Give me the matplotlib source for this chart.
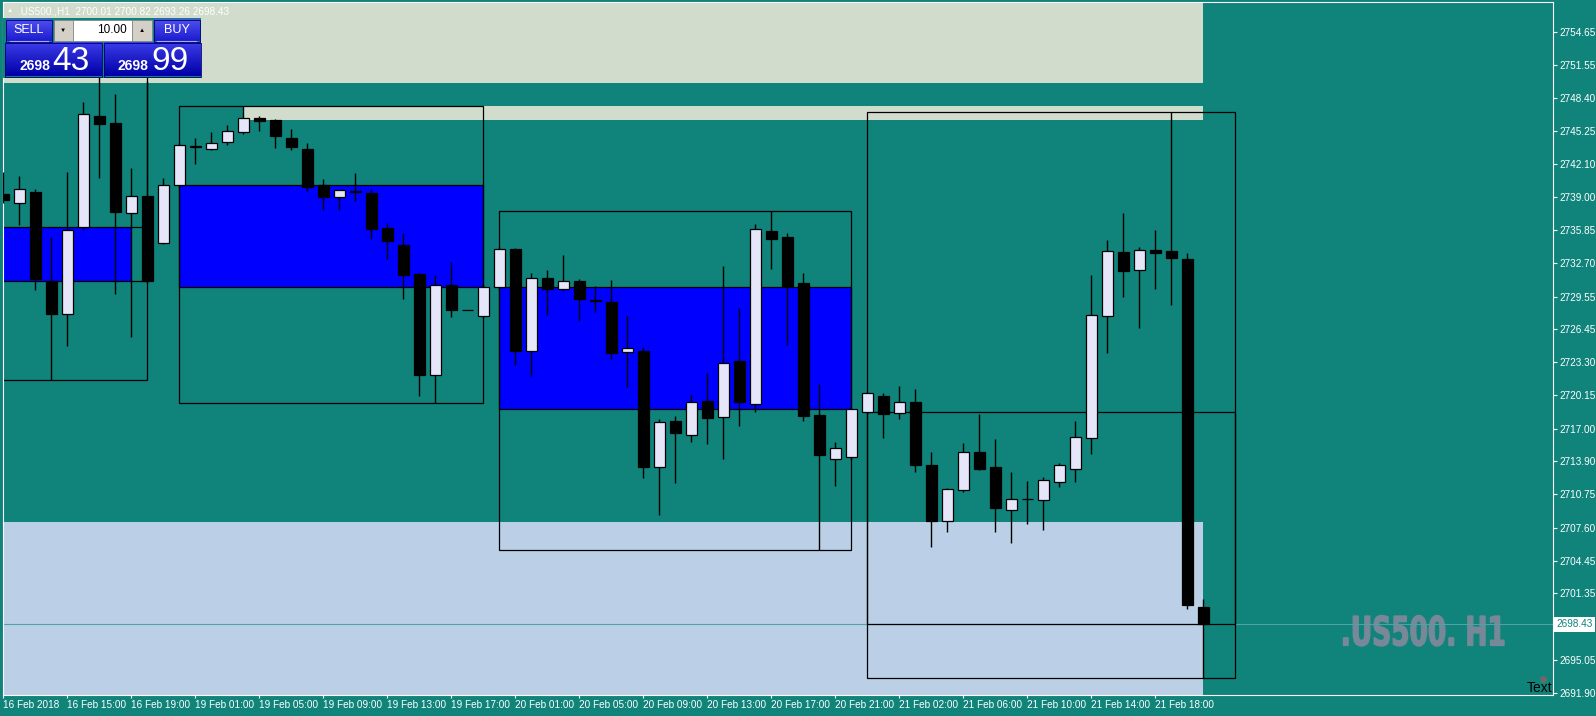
import matplotlib
matplotlib.use('Agg')
import numpy as np
import matplotlib.pyplot as plt
from matplotlib.patches import Rectangle, PathPatch
from matplotlib.textpath import TextPath
from matplotlib.font_manager import FontProperties
from matplotlib.transforms import Affine2D, blended_transform_factory
from matplotlib.colors import LinearSegmentedColormap

plt.rcParams['font.family'] = ['Liberation Sans', 'DejaVu Sans']

# .US500 H1 bars, 16 Feb 2018 11:00 .. 21 Feb 2018 21:00
opens = [2739.29, 2738.46, 2739.48, 2730.99, 2727.92, 2736.12, 2746.70, 2746.03, 2737.45, 2739.10,
         2734.60, 2740.11, 2743.80, 2743.59, 2744.20, 2745.21, 2746.48, 2746.32, 2744.61, 2743.56,
         2740.11, 2738.97, 2739.50, 2739.35, 2736.06, 2734.41, 2731.69, 2722.12, 2730.61, 2728.27,
         2727.74, 2730.42, 2734.03, 2724.40, 2731.27, 2730.29, 2730.99, 2729.18, 2729.02, 2724.30,
         2724.37, 2713.38, 2717.72, 2716.35, 2719.58, 2718.07, 2723.39, 2719.30, 2735.77, 2735.20,
         2730.83, 2718.29, 2714.14, 2714.27, 2718.62, 2720.09, 2718.44, 2719.53, 2713.52, 2708.24,
         2711.20, 2714.75, 2713.34, 2709.23, 2710.30, 2710.25, 2711.94, 2713.16, 2716.12, 2727.72,
         2733.77, 2732.08, 2734.01, 2733.87, 2733.10, 2700.01]
highs = [2741.41, 2741.00, 2739.76, 2735.23, 2741.38, 2748.03, 2752.02, 2748.79, 2741.76, 2750.00,
         2740.84, 2744.10, 2744.61, 2745.18, 2745.84, 2747.65, 2746.70, 2746.41, 2745.46, 2744.13,
         2740.71, 2739.70, 2741.28, 2739.79, 2736.50, 2735.55, 2731.75, 2731.59, 2732.83, 2728.30,
         2730.60, 2734.30, 2734.12, 2731.75, 2732.06, 2733.49, 2731.18, 2730.54, 2731.11, 2727.69,
         2724.72, 2717.91, 2718.19, 2720.16, 2722.25, 2732.44, 2728.45, 2736.43, 2737.64, 2735.58,
         2731.78, 2721.23, 2715.69, 2719.00, 2720.50, 2720.37, 2721.04, 2720.76, 2714.75, 2711.34,
         2715.63, 2718.37, 2716.01, 2712.85, 2712.01, 2712.39, 2713.73, 2717.70, 2731.59, 2734.93,
         2737.49, 2734.22, 2735.88, 2747.06, 2733.66, 2700.82]
lows = [2738.40, 2736.34, 2730.17, 2721.61, 2724.84, 2735.87, 2740.84, 2729.82, 2725.73, 2730.80,
        2734.50, 2740.00, 2742.17, 2743.47, 2743.94, 2744.99, 2745.27, 2743.66, 2743.47, 2739.60,
        2737.77, 2737.77, 2738.65, 2735.01, 2733.14, 2729.34, 2720.13, 2719.43, 2727.63, 2728.25,
        2727.50, 2730.20, 2723.04, 2722.02, 2727.76, 2730.10, 2727.25, 2728.10, 2723.58, 2720.98,
        2712.33, 2708.82, 2711.86, 2715.75, 2715.56, 2714.14, 2717.27, 2718.60, 2732.16, 2724.94,
        2717.75, 2705.50, 2711.57, 2714.00, 2718.40, 2716.12, 2717.95, 2712.88, 2705.78, 2707.19,
        2710.99, 2713.10, 2707.19, 2706.13, 2707.96, 2707.36, 2711.44, 2711.90, 2714.57, 2724.17,
        2729.48, 2726.59, 2730.25, 2728.78, 2699.88, 2693.26]
closes = [2738.72, 2739.73, 2731.21, 2727.92, 2735.84, 2746.89, 2745.97, 2737.61, 2739.07, 2730.99,
          2740.11, 2743.91, 2743.85, 2744.10, 2745.24, 2746.48, 2746.26, 2744.83, 2743.79, 2739.98,
          2739.03, 2739.63, 2739.54, 2735.99, 2734.79, 2731.56, 2722.12, 2730.61, 2728.30, 2728.27,
          2730.42, 2734.03, 2724.40, 2731.27, 2730.23, 2730.99, 2729.28, 2729.12, 2724.21, 2724.62,
          2713.38, 2717.59, 2716.61, 2719.52, 2718.03, 2723.20, 2719.55, 2735.93, 2735.04, 2730.58,
          2718.22, 2714.52, 2715.12, 2718.83, 2720.34, 2718.40, 2719.49, 2713.55, 2708.24, 2711.23,
          2714.82, 2713.16, 2709.47, 2710.28, 2710.35, 2712.11, 2713.52, 2716.19, 2727.79, 2733.87,
          2732.01, 2734.01, 2733.73, 2733.24, 2700.26, 2698.43]

time_labels = ['16 Feb 2018', '16 Feb 15:00', '16 Feb 19:00', '19 Feb 01:00', '19 Feb 05:00',
               '19 Feb 09:00', '19 Feb 13:00', '19 Feb 17:00', '20 Feb 01:00', '20 Feb 05:00',
               '20 Feb 09:00', '20 Feb 13:00', '20 Feb 17:00', '20 Feb 21:00', '21 Feb 02:00',
               '21 Feb 06:00', '21 Feb 10:00', '21 Feb 14:00', '21 Feb 18:00']

price_ticks = [2754.65, 2751.55, 2748.40, 2745.25, 2742.10, 2739.00, 2735.85, 2732.70, 2729.55,
               2726.45, 2723.30, 2720.15, 2717.00, 2713.90, 2710.75, 2707.60, 2704.45, 2701.35,
               2695.05, 2691.90]
last_price = 2698.43
bid_str, ask_str = '2698.43', '2698.99'

# daily range boxes (first / last bar of the day, high / low, open / close)
day_first = [-2, 11, 31, 54]
day_last = [9, 30, 53, 77]
fill_last = [8, 30, 53, 77]
day_high = [2752.50, 2747.65, 2737.64, 2747.06]
day_low = [2721.61, 2719.43, 2705.50, 2693.26]
day_open = [2736.12, 2740.11, 2730.42, 2718.62]
day_close = [2731.00, 2730.42, 2718.83, 2698.43]
day_filled = [True, True, True, False]

# zones
zone_first = [-2, 15, -2]
zone_last = [75, 75, 75]
zone_low = [2749.86, 2746.36, 2680.00]
zone_high = [2770.00, 2747.65, 2708.15]

BG = '#10837b'
zone_colors = ['#d1dccd', '#d1dccd', '#bbcfe6']
BULL = '#e6e6fa'

W, H = 1596, 716
fig = plt.figure(figsize=(W / 100, H / 100), dpi=100, facecolor=BG)

# chart area in pixels: x 2.7..1553.3, y 2.3..694.7
ax = fig.add_axes([2.7 / W, (H - 694.7) / H, (1553.3 - 2.7) / W, (694.7 - 2.3) / H])
ax.set_facecolor(BG)
ax.set_xlim(-0.0375, 96.875)
ax.set_ylim(2691.72, 2757.50)

for x0, x1, lo, hi, c in zip(zone_first, zone_last, zone_low, zone_high, zone_colors):
    ax.add_patch(Rectangle((x0, lo), x1 - x0, hi - lo, facecolor=c, edgecolor='none', zorder=0.5))

for i in range(len(day_first)):
    lo, hi = sorted([day_open[i], day_close[i]])
    if day_filled[i]:
        ax.add_patch(Rectangle((day_first[i], lo), fill_last[i] - day_first[i], hi - lo,
                               facecolor='#0000ff', edgecolor='none', zorder=1))
    ax.add_patch(Rectangle((day_first[i], lo), day_last[i] - day_first[i], hi - lo,
                           fill=False, edgecolor='black', lw=0.9, zorder=2))
    ax.add_patch(Rectangle((day_first[i], day_low[i]), day_last[i] - day_first[i],
                           day_high[i] - day_low[i], fill=False, edgecolor='black', lw=0.9, zorder=2))

ax.axhline(last_price, color='#4fa3a8', lw=0.8, zorder=1.5)

# candles
o = np.array(opens)
c = np.array(closes)
x = np.arange(len(o))
ax.vlines(x, lows, highs, color='black', lw=1.0, zorder=3)
bottoms = np.minimum(o, c)
heights = np.abs(c - o)
colors = [BULL if cc >= oo else 'black' for oo, cc in zip(o, c)]
ax.bar(x, heights, width=0.66, bottom=bottoms, color=colors, edgecolor='black', lw=0.9, zorder=4)

for s in ax.spines.values():
    s.set_color('white')
    s.set_linewidth(0.8)

ax.yaxis.tick_right()
ax.set_yticks(price_ticks)
ax.set_yticklabels(['%.2f' % p for p in price_ticks])
ax.tick_params(axis='y', colors='white', labelsize=7.2, length=3, width=0.8, pad=1.5)
ax.set_xticks(range(0, 76, 4))
ax.set_xticklabels(time_labels)
ax.tick_params(axis='x', colors='white', labelsize=7.2, length=2.2, width=0.8, pad=1.8)
for t in ax.get_xticklabels():
    t.set_ha('left')

tr = blended_transform_factory(ax.transAxes, ax.transData)
ax.text(1.0 + 3 / 1550.6, last_price, bid_str, transform=tr, ha='left', va='center', fontsize=7.2,
        color=BG, clip_on=False, zorder=6,
        bbox=dict(boxstyle='square,pad=0.25', fc='white', ec='none'))

# overlay in pixel coordinates for the trade panel and labels
ax2 = fig.add_axes([0, 0, 1, 1])
ax2.patch.set_visible(False)
ax2.axis('off')

# watermark (behind the bid line, inside the chart)
tp = TextPath((0, 0), '.US500. H1', size=1,
              prop=FontProperties(family='DejaVu Sans', weight='bold'))
bb = tp.get_extents()
wm_tr = (Affine2D().translate(-bb.x0, -bb.y0)
         .scale((1504 - 1343.5) / bb.width, -(646 - 615.5) / bb.height)
         .translate(1343.5, 646) + ax2.transData)
ax.add_patch(PathPatch(tp, transform=wm_tr, facecolor='#778899', edgecolor='#778899', lw=1.0,
                       zorder=1.2, clip_on=False))


def gradient(x0, x1, y0, y1, top, bottom):
    cmap = LinearSegmentedColormap.from_list('btn', [top, bottom])
    ax2.imshow(np.linspace(0, 1, 32).reshape(-1, 1), extent=(x0, x1, y1, y0), cmap=cmap,
               aspect='auto', interpolation='bilinear', zorder=3)
    ax2.add_patch(Rectangle((x0, y0), x1 - x0, y1 - y0, fill=False, edgecolor='#000070',
                            lw=0.6, zorder=4))


ax2.add_patch(Rectangle((3.3, 18.3), 197.7, 59.4, facecolor=BG, edgecolor='none', zorder=2))
gradient(5.5, 51.5, 20, 41.5, '#5050f0', '#1c1cd0')
gradient(153.5, 199.5, 20, 41.5, '#5050f0', '#1c1cd0')
gradient(5, 101.5, 43, 76.5, '#3c3ce8', '#0000a8')
gradient(104, 200.5, 43, 76.5, '#3c3ce8', '#0000a8')
ax2.plot([10, 48], [40.5, 40.5], color='#a8a8ff', lw=0.8, zorder=5)
ax2.plot([157, 196], [40.5, 40.5], color='#a8a8ff', lw=0.8, zorder=5)
ax2.text(28.5, 30, 'SELL', color='white', fontsize=9, ha='center', va='center', zorder=5)
ax2.text(176.5, 30, 'BUY', color='white', fontsize=9, ha='center', va='center', zorder=5)

ax2.add_patch(Rectangle((53.5, 20), 19.5, 20.7, facecolor='#d4d0c8', edgecolor='#808080', lw=0.5, zorder=3))
ax2.add_patch(Rectangle((73, 20), 58.7, 20.7, facecolor='white', edgecolor='#808080', lw=0.5, zorder=3))
ax2.add_patch(Rectangle((131.7, 20), 20, 20.7, facecolor='#d4d0c8', edgecolor='#808080', lw=0.5, zorder=3))
ax2.text(63.2, 30, '\u25bc', fontsize=4.5, color='black', ha='center', va='center', zorder=5)
ax2.text(141.7, 30, '\u25b2', fontsize=4.5, color='black', ha='center', va='center', zorder=5)
ax2.text(127, 30, '10.00', fontsize=8.5, color='black', ha='right', va='center', zorder=5)

ax2.text(50, 70, bid_str[:4], fontsize=10, fontweight='bold', color='white', ha='right',
         va='baseline', zorder=5)
ax2.text(52.5, 70, bid_str[-2:], fontsize=24, color='white', ha='left', va='baseline', zorder=5)
ax2.text(148.3, 70, ask_str[:4], fontsize=10, fontweight='bold', color='white', ha='right',
         va='baseline', zorder=5)
ax2.text(151, 70, ask_str[-2:], fontsize=24, color='white', ha='left', va='baseline', zorder=5)

ax2.text(9.5, 11, '\u25b2', fontsize=4.5, color='white', ha='center', va='center', zorder=5)
ax2.text(18.3, 11, '.US500.,H1  %.2f %.2f %.2f %.2f' % (opens[-1], highs[-1], lows[-1], closes[-1]),
         fontsize=7.2, color='white', ha='left', va='center', zorder=5)

ax2.plot(1542.5, 678.5, 'o', ms=4, color='#6a6a6a', zorder=5)
ax2.text(1526.7, 692, 'Text', fontsize=10, color='black', ha='left', va='baseline', zorder=5)

ax2.set_xlim(0, W)
ax2.set_ylim(H, 0)

fig.savefig('out.png', dpi=100, facecolor=BG)
